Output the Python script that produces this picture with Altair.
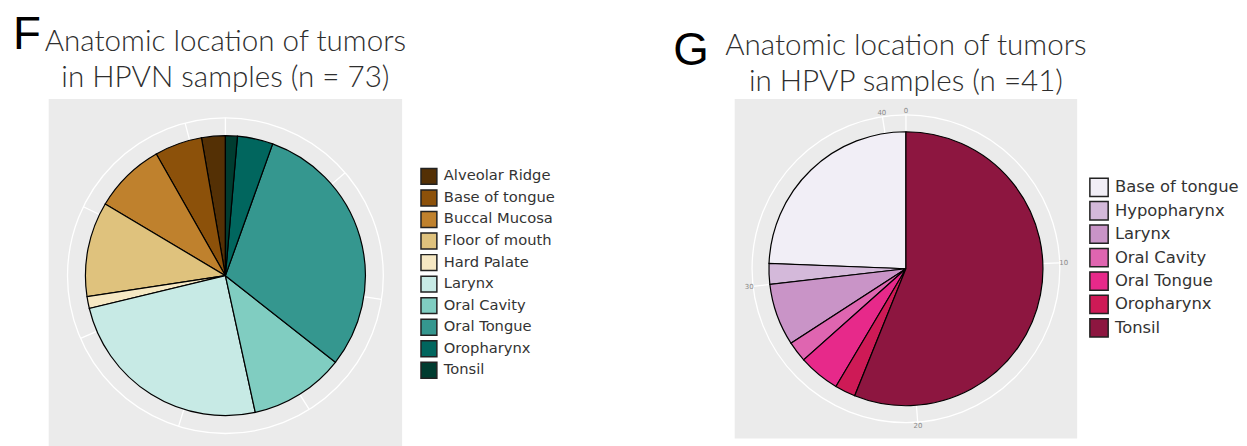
import math
import altair as alt
import pandas as pd

# ---- Panel F : HPVN ----
f_sites = ["Alveolar Ridge", "Base of tongue", "Buccal Mucosa", "Floor of mouth",
           "Hard Palate", "Larynx", "Oral Cavity", "Oral Tongue", "Oropharynx", "Tonsil"]
f_counts = [2, 4, 6, 8, 1, 18, 8, 22, 3, 1]
f_colors = ["#543005", "#8c510a", "#bf812d", "#dfc27d", "#f6e8c3",
            "#c7eae5", "#80cdc1", "#35978f", "#01665e", "#003c30"]
f_ticks = [0, 10, 20, 30, 40, 50, 60, 70]
f_total = 73
f_title = "Anatomic location of tumors\nin HPVN samples (n = 73)"

# ---- Panel G : HPVP ----
g_sites = ["Base of tongue", "Hypopharynx", "Larynx", "Oral Cavity",
           "Oral Tongue", "Oropharynx", "Tonsil"]
g_counts = [10, 1, 3, 1, 2, 1, 23]
g_colors = ["#f1eef6", "#d4b9da", "#c994c7", "#df65b0", "#e7298a", "#ce1a56", "#8d1640"]
g_ticks = [0, 10, 20, 30, 40]
g_total = 41
g_title = "Anatomic location of tumors\nin HPVP samples (n =41)"

TITLE_FONT = "Lato"
LEGEND_FONT = "DejaVu Sans"


def panel(letter, title, sites, counts, colors, ticks, total, width, height,
          pie_r, ring_r, show_labels, letter_x, letter_y, title_y, leg_x, leg_y,
          leg_size, leg_font, leg_pad):
    df = pd.DataFrame({"site": sites, "n": counts, "rank": list(range(len(sites)))})
    tdf = pd.DataFrame({"v": ticks})
    theta_scale = alt.Scale(domain=[0, total])

    ring = alt.Chart(pd.DataFrame({"a": [0]})).mark_arc(
        radius=ring_r, filled=False, stroke="white", strokeWidth=1.3
    ).encode(theta=alt.value(0), theta2=alt.value(2 * math.pi))

    grid = alt.Chart(tdf).mark_arc(
        radius=ring_r, filled=False, stroke="white", strokeWidth=1.3
    ).encode(
        theta=alt.Theta("v:Q", stack=False, scale=theta_scale),
        theta2=alt.Theta2("v:Q"),
    )

    pie = alt.Chart(df).mark_arc(radius=pie_r, stroke="black", strokeWidth=1.2).encode(
        theta=alt.Theta("n:Q", stack=True, scale=theta_scale),
        color=alt.Color(
            "site:N",
            scale=alt.Scale(domain=sites, range=colors),
            legend=alt.Legend(
                title=None, orient="none", legendX=leg_x, legendY=leg_y,
                symbolType="square", symbolSize=leg_size,
                symbolStrokeColor="#222222", symbolStrokeWidth=1.5,
                labelFont=LEGEND_FONT, labelFontSize=leg_font, labelColor="#333333",
                rowPadding=leg_pad, labelOffset=6, labelLimit=300,
            ),
        ),
        order=alt.Order("rank:Q", sort="descending"),
    )

    layers = [ring, grid, pie]
    if show_labels:
        labels = alt.Chart(tdf).mark_text(
            radius=ring_r + 4, fontSize=7, color="#8a8a8a", font="DejaVu Sans"
        ).encode(
            theta=alt.Theta("v:Q", stack=False, scale=theta_scale),
            text=alt.Text("v:Q"),
        )
        layers.append(labels)

    let = alt.Chart(pd.DataFrame({"t": [letter]})).mark_text(
        fontSize=46, align="left", baseline="alphabetic", color="black",
        font="Liberation Sans"
    ).encode(text="t:N", x=alt.value(letter_x), y=alt.value(letter_y))
    layers.append(let)

    ttl = alt.Chart(pd.DataFrame({"t": [title]})).mark_text(
        font=TITLE_FONT, fontSize=29.8, fontWeight=300, color="#2e2e2e",
        align="center", baseline="alphabetic", lineBreak="\n", lineHeight=36,
    ).encode(text="t:N", x=alt.value(width / 2), y=alt.value(title_y))
    layers.append(ttl)

    return alt.layer(*layers).properties(width=width, height=height)


left = panel("F", f_title, f_sites, f_counts, f_colors, f_ticks, f_total,
             356, 356, 141, 159, False, -36, -50, -48, 374, 69, 256, 14.8, -0.3)
right = panel("G", g_title, g_sites, g_counts, g_colors, g_ticks, g_total,
              345, 342, 138, 155, True, -62, -34, -44, 357, 79, 340, 16.5, -2.4)

chart = alt.hconcat(left, right, spacing=335, bounds="flush").resolve_scale(
    color="independent", theta="independent"
).configure_view(fill="#EBEBEB", stroke=None).properties(
    padding={"left": 5, "top": 3, "right": 0, "bottom": 0}
)

chart.save("out.html", embed_options={"renderer": "svg", "actions": False})
